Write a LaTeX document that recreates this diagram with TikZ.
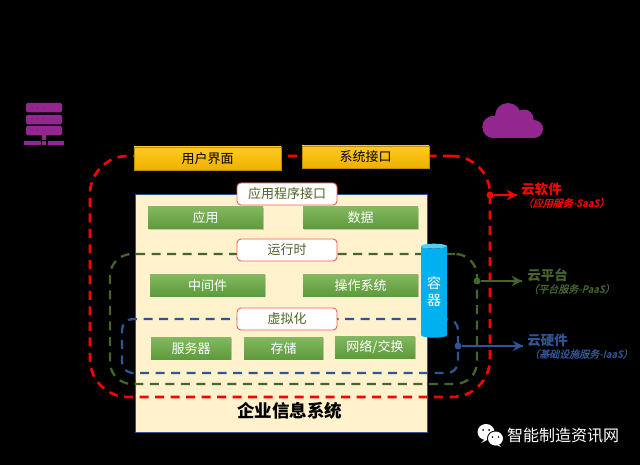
\documentclass[tikz,border=0pt]{standalone}
\usepackage{fontspec}
\setmainfont{Noto Sans CJK SC}
\newfontfamily\slantfont[FakeSlant=0.25,FakeBold=1.5]{Noto Sans CJK SC}
\usetikzlibrary{shapes,arrows,shadows}
\usetikzlibrary{arrows,decorations.markings}
\definecolor{creamColor}{HTML}{FFF2CC}
\definecolor{edgeColor}{HTML}{2F5597}
\definecolor{barTop}{HTML}{FFCB20}
\definecolor{barBottom}{HTML}{EDB000}
\definecolor{leafTop}{HTML}{82B85E}
\definecolor{leafBottom}{HTML}{5E9A3C}
\definecolor{tagColor}{HTML}{FF5A5A}
\definecolor{tagText}{HTML}{4F6228}
\definecolor{saasColor}{HTML}{FF0000}
\definecolor{paasColor}{HTML}{44652C}
\definecolor{iaasColor}{HTML}{2F5597}
\definecolor{iconColor}{HTML}{93278F}
\definecolor{tubeColor}{HTML}{00B0F0}
\definecolor{tubeTop}{HTML}{55CDF5}
\tikzstyle{bar}=[rectangle, minimum height=23pt, text centered, draw=barBottom!80!black, top color=barTop, bottom color=barBottom, inner sep=0pt, font=\fontsize{13}{15}\selectfont]
\tikzstyle{leaf}=[rectangle, minimum width=115pt, minimum height=22pt, text centered, text=white, top color=leafTop, bottom color=leafBottom, inner sep=0pt, drop shadow={shadow xshift=0.8pt, shadow yshift=-0.8pt, opacity=0.4}, font=\fontsize{13}{15}\selectfont]
\tikzstyle{tag}=[rectangle, rounded corners=4pt, minimum width=100pt, minimum height=22pt, text centered, draw=tagColor, line width=0.9pt, fill=white, text=tagText, inner sep=0pt, font=\fontsize{13}{15}\selectfont]
\tikzstyle{loop}=[rectangle, dash pattern=on 9pt off 6.5pt, inner sep=0pt]
\tikzstyle{dot}=[circle, minimum size=7pt, inner sep=0pt]
\tikzstyle{cloudname}=[inner sep=0pt, font=\fontsize{13.5}{15}\selectfont\bfseries]
\tikzstyle{cloudnote}=[inner sep=0pt, font=\fontsize{10}{12}\selectfont\slantfont]
\tikzstyle{arrow} = [line width=2pt, decoration={markings,mark=at position 1 with
	{\arrow[scale=1.5,>=stealth]{>}}},postaction={decorate}]

\begin{document}
\begin{tikzpicture}[x=1pt, y=-1pt, node distance=14pt]
	\useasboundingbox (0,0) rectangle (640,465);
	\fill [black] (0,0) rectangle (640,465);
	
	\node (enterprise) [rectangle, draw=edgeColor, line width=0.9pt, fill=creamColor, minimum width=292pt, minimum height=238pt, inner sep=0pt] at (281,313) {};
	
	% dashed loops sit on the cream box but under everything else
	\node (saasLoop) [loop, draw=saasColor, line width=2.6pt, rounded corners=38pt, minimum width=400pt, minimum height=241pt] at (290,276.5) {};
	\node (paasLoop) [loop, draw=paasColor, line width=2.3pt, rounded corners=22pt, minimum width=367pt, minimum height=130pt] at (293.5,319) {};
	\node (iaasLoop) [loop, draw=iaasColor, line width=2.3pt, rounded corners=11pt, minimum width=336pt, minimum height=54pt] at (290,346) {};
	
	\node (userUI) [bar, minimum width=147pt] at (207.5,158.5) {用户界面};
	\node (sysIF) [bar, minimum width=127pt, minimum height=22pt] at (365.5,157) {系统接口};
	
	\node (apiTag) [tag] at (287,194) {应用程序接口};
	\node (app) [leaf] at (205.5,218) {应用};
	\node (data) [leaf] at (360.5,218) {数据};
	
	\node (runtimeTag) [tag] at (287,250) {运行时};
	\node (middleware) [leaf] at (207.5,285.5) {中间件};
	\node (os) [leaf] at (360.5,285.5) {操作系统};
	
	\node (virtTag) [tag] at (287,319) {虚拟化};
	\node (server) [leaf, minimum width=80pt] at (191,348.5) {服务器};
	\node (storage) [leaf, minimum width=79pt] at (283.5,348.5) {存储};
	\node (network) [leaf, minimum width=80pt] at (375,347) {网络/交换};
	
	\node (container) [cylinder, shape border rotate=90, aspect=0.35, minimum width=26pt, minimum height=94pt, inner sep=0pt, cylinder uses custom fill, cylinder body fill=tubeColor, cylinder end fill=tubeTop, text=white, align=center, font=\fontsize{14}{17}\selectfont] at (434,292) {容\\器};
	
	\node (title) [inner sep=0pt, font=\fontsize{17.5}{20}\selectfont\bfseries] at (289.5,411) {企业信息系统};
	
	% cloud labels
	\node (saasName) [cloudname, text=saasColor] at (541.5,189) {云软件};
	\node (saasNote) [cloudnote, text=saasColor, below of=saasName, xshift=24.5pt] {（应用服务-SaaS）};
	\node (paasName) [cloudname, text=paasColor] at (547.5,275) {云平台};
	\node (paasNote) [cloudnote, text=paasColor, below of=paasName, xshift=24pt] {（平台服务-PaaS）};
	\node (iaasName) [cloudname, text=iaasColor] at (547.5,340) {云硬件};
	\node (iaasNote) [cloudnote, text=iaasColor, below of=iaasName, xshift=33.5pt] {（基础设施服务-IaaS）};
	
	\node (saasDot) [dot, fill=saasColor] at (490,195) {};
	\node (paasDot) [dot, fill=paasColor] at (477,281) {};
	\node (iaasDot) [dot, fill=iaasColor] at (458,346) {};
	\coordinate (saasEnd) at (517,195);
	\coordinate (paasEnd) at (522,281);
	\coordinate (iaasEnd) at (523,346);
	
	\draw [arrow, draw=saasColor] (saasDot) -- (saasEnd);
	\draw [arrow, draw=paasColor] (paasDot) -- (paasEnd);
	\draw [arrow, draw=iaasColor] (iaasDot) -- (iaasEnd);
	
	% server icon
	\foreach \y in {103,115,126}
		\fill [iconColor, rounded corners=1.5pt] (26,\y) rectangle (62,\y+9.5);
	\foreach \y in {108,119,130}
		\foreach \x in {32,37,43}
			\fill [black!60!iconColor] (\x,\y) circle (0.5);
	\fill [iconColor] (42,135) rectangle (46,140);
	\fill [iconColor] (24,141) rectangle (41,145);
	\fill [iconColor] (42,141) rectangle (46,145);
	\fill [iconColor] (47.5,141) rectangle (64,145);
	
	% cloud icon
	\fill [iconColor] (493.5,127) circle (11.2);
	\fill [iconColor] (508,116) circle (13);
	\fill [iconColor] (524,119) circle (9.5);
	\fill [iconColor] (534,129) circle (9);
	\fill [iconColor] (494,125) rectangle (534,138);
	
	% watermark
	\fill [white] (486,432) ellipse (8.5 and 8);
	\fill [white] (486,438) -- (481,443) -- (491,438) -- cycle;
	\fill [black] (483,430) circle (1);
	\fill [black] (489,430) circle (1);
	\fill [black] (495.5,438.5) ellipse (8.5 and 8);
	\fill [white] (495.5,438.5) ellipse (7.5 and 7);
	\fill [white] (498,444) -- (501,447) -- (494,444) -- cycle;
	\fill [black] (492.5,437) circle (0.9);
	\fill [black] (498.5,437) circle (0.9);
	\node (brand) [inner sep=0pt, text=white, font=\fontsize{16}{18}\selectfont] at (563,436) {智能制造资讯网};
	
\end{tikzpicture}
\end{document}
